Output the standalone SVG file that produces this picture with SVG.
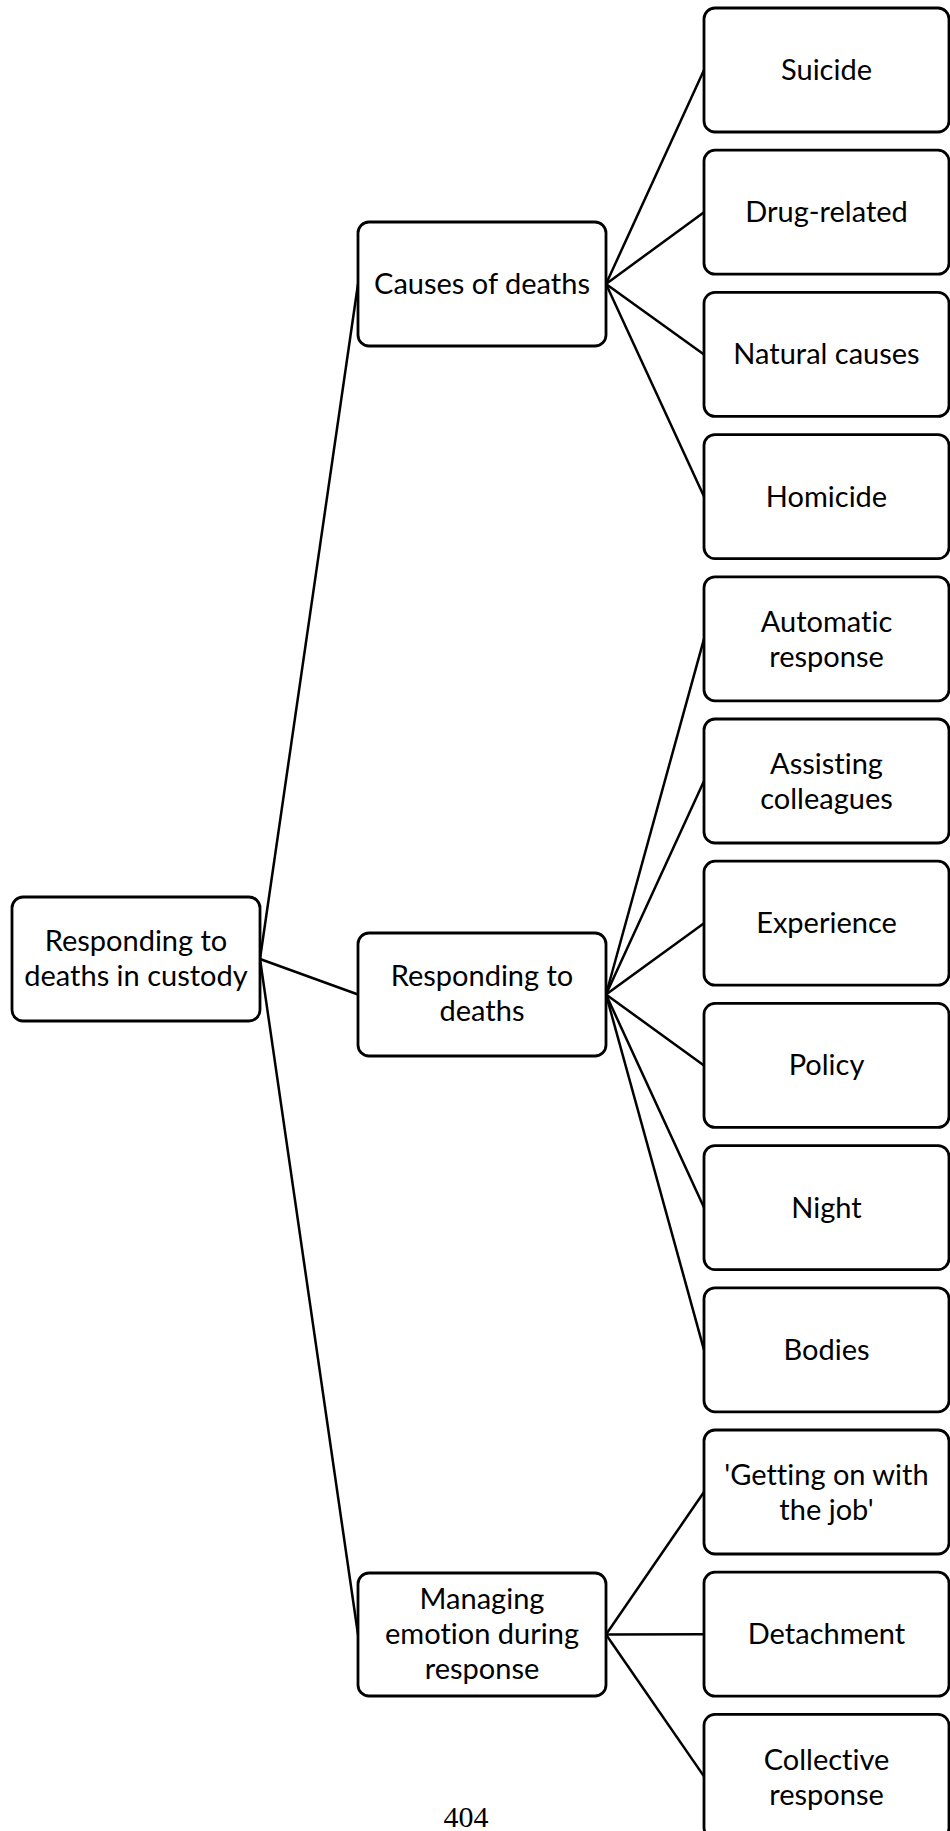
<svg xmlns="http://www.w3.org/2000/svg" width="950" height="1831" viewBox="0 0 950 1831">
  <style>
    .box { fill: #ffffff; stroke: #000000; stroke-width: 2.8; }
    .lbl { font-family: Lato, "Open Sans", "Liberation Sans", sans-serif; font-size: 29px; fill: #000000; text-anchor: middle; font-variant-ligatures: none; font-feature-settings: "liga" 0, "clig" 0; }
    .edge { stroke: #000000; stroke-width: 2.5; fill: none; }
    .page { font-family: "Liberation Serif", "Times New Roman", serif; font-size: 30px; fill: #000000; text-anchor: middle; }
  </style>
  <rect width="950" height="1831" fill="#ffffff"/>

  <!-- connectors: parent right-middle to child left-middle -->
  <g id="connectors">
    <line class="edge" x1="260" y1="959" x2="358" y2="284"/>
    <line class="edge" x1="260" y1="959" x2="358" y2="994.5"/>
    <line class="edge" x1="260" y1="959" x2="358" y2="1634.5"/>

    <line class="edge" x1="606" y1="284" x2="704" y2="70"/>
    <line class="edge" x1="606" y1="284" x2="704" y2="212.2"/>
    <line class="edge" x1="606" y1="284" x2="704" y2="354.4"/>
    <line class="edge" x1="606" y1="284" x2="704" y2="496.6"/>

    <line class="edge" x1="606" y1="994.5" x2="704" y2="638.8"/>
    <line class="edge" x1="606" y1="994.5" x2="704" y2="781"/>
    <line class="edge" x1="606" y1="994.5" x2="704" y2="923.2"/>
    <line class="edge" x1="606" y1="994.5" x2="704" y2="1065.4"/>
    <line class="edge" x1="606" y1="994.5" x2="704" y2="1207.6"/>
    <line class="edge" x1="606" y1="994.5" x2="704" y2="1349.8"/>

    <line class="edge" x1="606" y1="1634.5" x2="704" y2="1492"/>
    <line class="edge" x1="606" y1="1634.5" x2="704" y2="1634.2"/>
    <line class="edge" x1="606" y1="1634.5" x2="704" y2="1776.4"/>
  </g>

  <!-- root -->
  <g id="root">
    <rect class="box" x="12" y="897" width="248" height="124" rx="11"/>
    <text class="lbl" x="136" y="951">Responding to</text>
    <text class="lbl" x="136" y="986">deaths in custody</text>
  </g>

  <!-- second level -->
  <g id="causes">
    <rect class="box" x="358" y="222" width="248" height="124" rx="11"/>
    <text class="lbl" x="482" y="294">Causes of deaths</text>
  </g>
  <g id="responding">
    <rect class="box" x="358" y="933" width="248" height="123" rx="11"/>
    <text class="lbl" x="482" y="986">Responding to</text>
    <text class="lbl" x="482" y="1021">deaths</text>
  </g>
  <g id="managing">
    <rect class="box" x="358" y="1573" width="248" height="123" rx="11"/>
    <text class="lbl" x="482" y="1609">Managing</text>
    <text class="lbl" x="482" y="1644">emotion during</text>
    <text class="lbl" x="482" y="1679">response</text>
  </g>

  <!-- leaves -->
  <g id="suicide">
    <rect class="box" x="704" y="8" width="245" height="124" rx="11"/>
    <text class="lbl" x="826.5" y="80">Suicide</text>
  </g>
  <g id="drug">
    <rect class="box" x="704" y="150.2" width="245" height="124" rx="11"/>
    <text class="lbl" x="826.5" y="222.2">Drug-related</text>
  </g>
  <g id="natural">
    <rect class="box" x="704" y="292.4" width="245" height="124" rx="11"/>
    <text class="lbl" x="826.5" y="364.4">Natural causes</text>
  </g>
  <g id="homicide">
    <rect class="box" x="704" y="434.6" width="245" height="124" rx="11"/>
    <text class="lbl" x="826.5" y="506.6">Homicide</text>
  </g>
  <g id="automatic">
    <rect class="box" x="704" y="576.8" width="245" height="124" rx="11"/>
    <text class="lbl" x="826.5" y="632">Automatic</text>
    <text class="lbl" x="826.5" y="667">response</text>
  </g>
  <g id="assisting">
    <rect class="box" x="704" y="719" width="245" height="124" rx="11"/>
    <text class="lbl" x="826.5" y="774.2">Assisting</text>
    <text class="lbl" x="826.5" y="809.2">colleagues</text>
  </g>
  <g id="experience">
    <rect class="box" x="704" y="861.2" width="245" height="124" rx="11"/>
    <text class="lbl" x="826.5" y="933.2">Experience</text>
  </g>
  <g id="policy">
    <rect class="box" x="704" y="1003.4" width="245" height="124" rx="11"/>
    <text class="lbl" x="826.5" y="1075.4">Policy</text>
  </g>
  <g id="night">
    <rect class="box" x="704" y="1145.6" width="245" height="124" rx="11"/>
    <text class="lbl" x="826.5" y="1217.6">Night</text>
  </g>
  <g id="bodies">
    <rect class="box" x="704" y="1287.8" width="245" height="124" rx="11"/>
    <text class="lbl" x="826.5" y="1359.8">Bodies</text>
  </g>
  <g id="getting-on">
    <rect class="box" x="704" y="1430" width="245" height="124" rx="11"/>
    <text class="lbl" x="826.5" y="1485.2">'Getting on with</text>
    <text class="lbl" x="826.5" y="1520.2">the job'</text>
  </g>
  <g id="detachment">
    <rect class="box" x="704" y="1572.2" width="245" height="124" rx="11"/>
    <text class="lbl" x="826.5" y="1644.2">Detachment</text>
  </g>
  <g id="collective">
    <rect class="box" x="704" y="1714.4" width="245" height="124" rx="11"/>
    <text class="lbl" x="826.5" y="1769.6">Collective</text>
    <text class="lbl" x="826.5" y="1804.6">response</text>
  </g>

  <!-- page number -->
  <text class="page" x="466" y="1827">404</text>
</svg>
